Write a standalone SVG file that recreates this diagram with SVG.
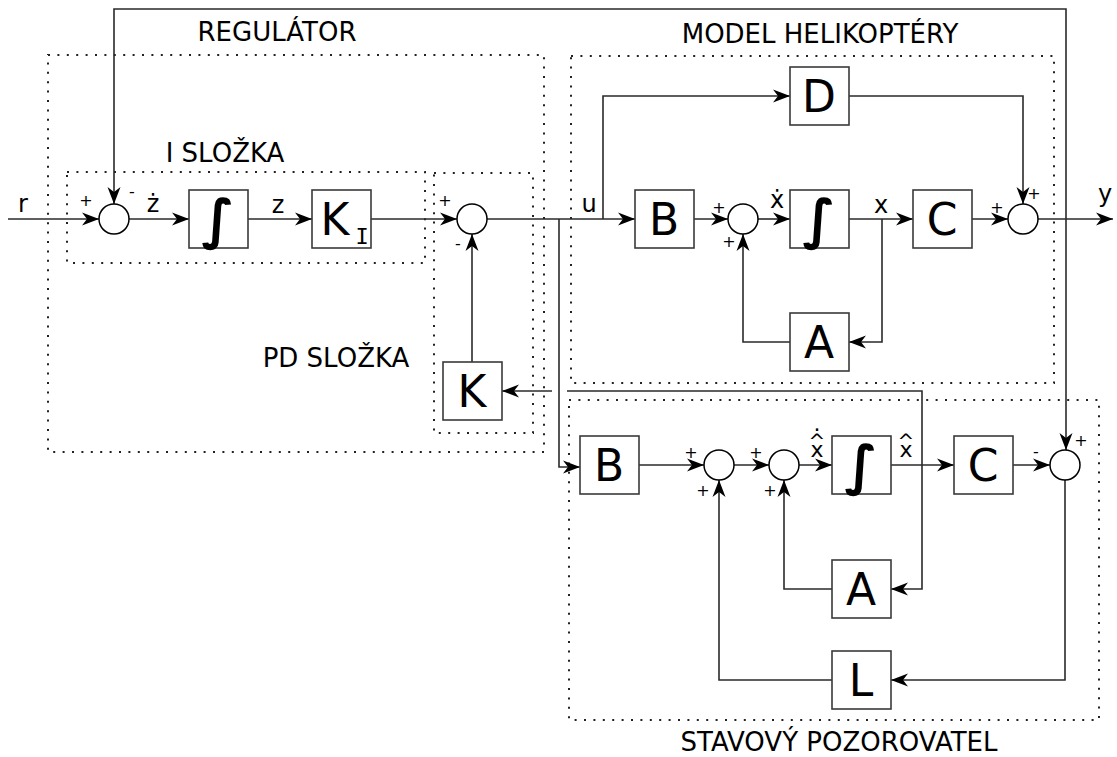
<svg xmlns="http://www.w3.org/2000/svg" width="1117" height="757" viewBox="0 0 1117 757">
<style>
text{font-family:"DejaVu Sans","Liberation Sans",sans-serif;fill:#000}
.title{font-size:26px;text-anchor:middle}
.blk rect{fill:#fff;stroke:#3a3a3a;stroke-width:1.6}
.blk text{font-size:44px;text-anchor:middle}
.sum circle{fill:#fff;stroke:#000;stroke-width:1.5}
.sgn{font-size:16px;text-anchor:middle}
.lbl{font-size:24px;text-anchor:middle}
.dot{fill:none;stroke:#222;stroke-width:2;stroke-dasharray:2 7.4}
#connectors path{fill:none;stroke:#2a2a2a;stroke-width:1.6}
.blk text.int{font-size:54px;font-weight:bold}
.blk text.sub{font-family:"DejaVu Sans Mono",monospace;font-size:22px}
.hat{font-size:22px;text-anchor:middle}
.hat .c{font-size:20px}
</style>
<defs>
<marker id="arr" markerUnits="userSpaceOnUse" markerWidth="20" markerHeight="14" viewBox="-18 -7 20 14" refX="0" refY="0" orient="auto">
<path d="M0,0 L-17,-6.5 L-12,0 L-17,6.5 Z" fill="#000"/>
</marker>
</defs>
<rect width="1117" height="757" fill="#fff"/>

<g id="frames">
<rect class="dot" x="48" y="55" width="496" height="397"/>
<rect class="dot" x="67" y="172" width="358" height="91"/>
<rect class="dot" x="434" y="173" width="99" height="260"/>
<rect class="dot" x="571" y="56" width="483" height="327"/>
<rect class="dot" x="569" y="400" width="530" height="320"/>
</g>

<g id="titles">
<text class="title" x="277" y="41">REGULÁTOR</text>
<text class="title" x="225" y="162">I SLOŽKA</text>
<text class="title" x="336" y="367">PD SLOŽKA</text>
<text class="title" x="820" y="43">MODEL HELIKOPTÉRY</text>
<text class="title" x="839" y="751">STAVOVÝ POZOROVATEL</text>
</g>

<g id="connectors">
<path d="M8,219 H99" marker-end="url(#arr)"/>
<path d="M1066,219 V9 H114 V204" marker-end="url(#arr)"/>
<path d="M1066,219 V450" marker-end="url(#arr)"/>
<path d="M129,219 H189" marker-end="url(#arr)"/>
<path d="M248,219 H312" marker-end="url(#arr)"/>
<path d="M371,219 H457" marker-end="url(#arr)"/>
<path d="M487,219 H635" marker-end="url(#arr)"/>
<path d="M559,219 V467 H580" marker-end="url(#arr)"/>
<path d="M603,219 V96 H790" marker-end="url(#arr)"/>
<path d="M694,219 H728" marker-end="url(#arr)"/>
<path d="M758,219 H790" marker-end="url(#arr)"/>
<path d="M849,219 H913" marker-end="url(#arr)"/>
<path d="M882,219 V342 H849" marker-end="url(#arr)"/>
<path d="M790,342 H743 V234" marker-end="url(#arr)"/>
<path d="M972,219 H1008" marker-end="url(#arr)"/>
<path d="M849,96 H1023 V204" marker-end="url(#arr)"/>
<path d="M1038,219 H1113" marker-end="url(#arr)"/>
<path d="M472,362 V234" marker-end="url(#arr)"/>
<path d="M891,465 H954" marker-end="url(#arr)"/>
<path d="M922,465 V391 H567"/>
<path d="M552,391 H502" marker-end="url(#arr)"/>
<path d="M922,465 V589 H891" marker-end="url(#arr)"/>
<path d="M639,465 H704" marker-end="url(#arr)"/>
<path d="M734,465 H769" marker-end="url(#arr)"/>
<path d="M799,465 H832" marker-end="url(#arr)"/>
<path d="M1013,465 H1050" marker-end="url(#arr)"/>
<path d="M1065,480 V680 H891" marker-end="url(#arr)"/>
<path d="M832,680 H719 V480" marker-end="url(#arr)"/>
<path d="M832,589 H784 V480" marker-end="url(#arr)"/>
</g>

<g id="signal-labels">
<text class="lbl" x="23" y="212">r</text>
<text class="lbl" x="153" y="212">ż</text>
<text class="lbl" x="278" y="213">z</text>
<text class="lbl" x="589" y="212">u</text>
<text class="lbl" x="777" y="208">ẋ</text>
<text class="lbl" x="881" y="213">x</text>
<text class="lbl" x="1105" y="202">y</text>
<text class="hat"><tspan x="817" y="457">x</tspan><tspan class="c" x="817" y="448">^</tspan><tspan x="817" y="431">.</tspan></text>
<text class="hat"><tspan x="906" y="457">x</tspan><tspan class="c" x="906" y="448">^</tspan></text>
</g>

<g id="sum1" class="sum"><circle cx="114" cy="219" r="15"/><text class="sgn" x="86" y="206">+</text><text class="sgn" x="132" y="197">-</text></g>
<g id="int1" class="blk"><rect x="189" y="190" width="59" height="58"/><text class="int" x="218" y="238">∫</text></g>
<g id="KI" class="blk"><rect x="312" y="190" width="59" height="58"/><text x="335" y="235">K</text><text class="sub" x="362" y="244">I</text></g>
<g id="sum2" class="sum"><circle cx="472" cy="219" r="15"/><text class="sgn" x="445" y="206">+</text><text class="sgn" x="458" y="249">-</text></g>
<g id="K" class="blk"><rect x="443" y="362" width="59" height="58"/><text x="472" y="407">K</text></g>

<g id="Bm" class="blk"><rect x="635" y="190" width="59" height="58"/><text x="664" y="235">B</text></g>
<g id="msum1" class="sum"><circle cx="743" cy="219" r="15"/><text class="sgn" x="719" y="213">+</text><text class="sgn" x="729" y="247">+</text></g>
<g id="intm" class="blk"><rect x="790" y="190" width="59" height="58"/><text class="int" x="819" y="238">∫</text></g>
<g id="Cm" class="blk"><rect x="913" y="190" width="59" height="58"/><text x="942" y="235">C</text></g>
<g id="msum2" class="sum"><circle cx="1023" cy="219" r="15"/><text class="sgn" x="997" y="213">+</text><text class="sgn" x="1034" y="199">+</text></g>
<g id="D" class="blk"><rect x="790" y="67" width="59" height="58"/><text x="819" y="112">D</text></g>
<g id="Am" class="blk"><rect x="790" y="313" width="59" height="58"/><text x="819" y="358">A</text></g>

<g id="Bo" class="blk"><rect x="580" y="436" width="59" height="58"/><text x="609" y="481">B</text></g>
<g id="osum1" class="sum"><circle cx="719" cy="465" r="15"/><text class="sgn" x="691" y="458">+</text><text class="sgn" x="703" y="496">+</text></g>
<g id="osum2" class="sum"><circle cx="784" cy="465" r="15"/><text class="sgn" x="756" y="458">+</text><text class="sgn" x="770" y="496">+</text></g>
<g id="into" class="blk"><rect x="832" y="436" width="59" height="58"/><text class="int" x="861" y="484">∫</text></g>
<g id="Co" class="blk"><rect x="954" y="436" width="59" height="58"/><text x="983" y="481">C</text></g>
<g id="osum3" class="sum"><circle cx="1065" cy="465" r="15"/><text class="sgn" x="1036" y="457">-</text><text class="sgn" x="1081" y="446">+</text></g>
<g id="Ao" class="blk"><rect x="832" y="560" width="59" height="58"/><text x="861" y="605">A</text></g>
<g id="Lo" class="blk"><rect x="832" y="651" width="59" height="58"/><text x="861" y="696">L</text></g>
</svg>
